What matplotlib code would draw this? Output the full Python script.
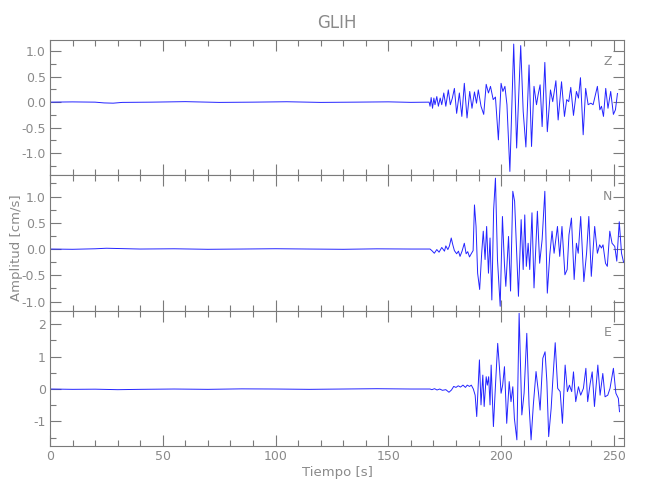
import matplotlib
matplotlib.use("Agg")
import matplotlib.pyplot as plt
from matplotlib.ticker import MultipleLocator, FormatStrFormatter

# ---------------- data ----------------
title = "GLIH"
components = ["Z", "N", "E"]
xlabel = "Tiempo [s]"
ylabel = "Amplitud [cm/s]"

t_z = [0, 10, 20, 24, 28, 32, 45, 60, 75, 90, 105, 120, 135, 150, 160, 168.1,
       168.5, 169.0, 169.6, 170.2, 170.7, 171.5, 172.2, 173.0, 173.7, 174.6,
       175.5, 176.6, 177.5, 178.4, 179.3, 180.3, 181.5, 182.6, 183.7, 184.9,
       186.1, 187.1, 188.2, 189.1, 189.9, 191.1, 192.3, 193.4, 194.4, 195.3,
       196.5, 197.5, 198.8, 200.0, 200.8, 201.7, 202.6, 203.9, 205.6, 206.9,
       208.7, 209.8, 211.0, 212.4, 213.5, 214.6, 215.7, 216.4, 217.3, 218.2,
       219.4, 220.5, 221.9, 222.9, 224.3, 225.3, 226.8, 228.1, 229.1, 230.0,
       230.9, 232.1, 233.4, 234.3, 235.2, 236.4, 237.5, 238.6, 239.8, 240.8,
       242.7, 243.8, 244.5, 245.4, 246.4, 247.4, 248.6, 249.8, 250.7, 251.6]
v_z = [0.0, 0.005, 0.0, -0.015, -0.02, -0.005, 0.0, 0.01, -0.005, 0.0, 0.008, -0.005, 0.0, 0.006, -0.004, 0.0,
       -0.08, 0.09, -0.12, 0.08, -0.05, 0.11, -0.08, 0.08, -0.05, 0.18,
       -0.08, 0.24, -0.05, 0.08, 0.27, -0.22, 0.18, -0.28, 0.37, -0.31,
       0.21, -0.12, 0.20, -0.02, 0.24, -0.08, -0.24, 0.35, 0.18, 0.31,
       0.05, 0.10, -0.74, 0.37, 0.21, 0.31, -0.05, -1.36, 1.14, -0.90,
       1.11, -0.18, -0.88, 0.73, -0.87, 0.31, -0.05, 0.14, 0.34, -0.48,
       0.78, -0.58, 0.24, 0.01, 0.42, -0.35, 0.40, -0.28, 0.05, 0.01,
       0.29, -0.26, 0.21, 0.08, 0.48, -0.64, 0.27, -0.05, -0.02, -0.05,
       0.31, -0.15, -0.08, -0.28, 0.27, -0.12, 0.21, -0.24, -0.15, 0.17]

t_n = [0, 10, 20, 25, 30, 40, 55, 70, 85, 100, 115, 130, 145, 160, 168.5,
       169.3, 170.4, 171.5, 172.5, 173.7, 174.9, 175.5, 176.4, 177.1, 177.9,
       178.6, 179.3, 180.3, 181.1, 181.8, 182.7, 183.7, 184.5, 185.2, 186.0,
       186.9, 187.6, 188.2, 188.9, 189.6, 190.5, 191.4, 192.1, 192.9, 193.6,
       194.4, 195.1, 195.9, 196.7, 197.5, 198.4, 199.6, 200.6, 201.5, 202.1,
       203.3, 204.2, 205.2, 206.0, 206.8, 207.7, 208.9, 209.8, 210.5, 211.2,
       212.0, 212.7, 213.7, 214.6, 216.1, 217.1, 218.2, 219.4, 220.5, 221.6,
       222.6, 223.5, 225.0, 226.0, 227.0, 228.3, 229.3, 230.1, 231.2, 232.4,
       233.4, 234.2, 235.3, 236.7, 237.9, 238.9, 240.0, 241.5, 242.7, 243.7,
       244.5, 245.2, 246.3, 247.1, 248.2, 249.2, 250.4, 251.3, 252.4, 253.4, 254.3]
v_n = [0.0, -0.005, 0.005, 0.015, 0.01, 0.0, 0.005, -0.005, 0.0, 0.006, 0.0, -0.005, 0.004, 0.0, 0.0,
       -0.03, -0.08, -0.01, -0.06, 0.03, -0.04, 0.06, -0.01, 0.06, 0.21,
       0.08, -0.03, -0.09, -0.04, -0.14, -0.04, 0.11, -0.09, -0.05, -0.15,
       -0.08, -0.03, 0.84, 0.43, -0.46, -0.77, -0.08, 0.34, -0.20, 0.43,
       -0.46, 0.21, -0.97, 0.75, 1.35, -0.20, -1.09, 0.62, -0.30, -0.71,
       0.24, -0.80, 1.10, 0.91, 0.05, -0.90, 0.56, -0.39, 0.65, -0.33,
       0.11, -0.39, 0.69, -0.74, 0.72, -0.27, 0.18, 1.10, -0.84, -0.11,
       0.34, -0.08, 0.43, -0.14, 0.43, -0.49, -0.39, 0.27, 0.59, -0.58,
       0.11, -0.08, 0.62, -0.62, -0.08, 0.62, -0.52, 0.43, -0.08, 0.08,
       0.02, 0.08, -0.27, -0.33, 0.34, 0.11, 0.05, -0.23, 0.52, -0.08, -0.25]

t_e = [0, 10, 20, 30, 40, 55, 70, 85, 100, 115, 130, 145, 160, 168.5,
       169.3, 170.5, 171.6, 172.8, 174.0, 175.5, 176.9, 178.0, 179.0, 180.0,
       181.0, 182.0, 183.1, 184.2, 185.0, 186.0, 186.8, 187.7,
       188.5, 189.2, 190.4, 191.1, 191.9, 192.5, 193.4, 193.9, 194.5, 195.1,
       195.6, 196.6, 197.6, 198.5, 199.3, 200.0, 200.7, 201.5, 202.5, 203.6,
       204.4, 205.2, 205.9, 207.0, 208.0, 209.2, 210.2, 211.4, 212.4, 213.3,
       214.3, 215.5, 216.6, 217.3, 218.5, 219.5, 220.3, 221.1, 222.2, 222.9,
       224.0, 225.1, 226.2, 227.2, 228.4, 229.4, 230.3, 231.3, 232.1, 233.1,
       234.3, 235.3, 236.5, 237.6, 238.4, 239.5, 240.4, 241.4, 242.9, 243.9,
       245.1, 246.1, 247.3, 248.3, 249.8, 250.9, 252.0, 252.5]
v_e = [0.0, -0.01, -0.005, -0.02, -0.01, 0.0, -0.01, 0.005, 0.0, -0.01, 0.0, 0.01, 0.0, 0.0,
       -0.02, 0.01, -0.03, 0.0, -0.04, -0.02, -0.10, -0.03, 0.08, 0.05,
       0.10, 0.06, 0.12, 0.05, 0.12, 0.08, 0.12, 0.0,
       -0.19, -0.85, 0.90, -0.49, 0.43, -0.54, 0.38, 0.12, 0.38, -0.49,
       0.74, -1.16, 0.23, 1.41, 0.64, -0.13, 0.12, 0.69, -1.06, 0.23,
       -0.39, 0.07, -0.91, -1.57, 2.34, -0.80, -0.13, 1.72, -0.49, -1.57,
       -0.49, 0.54, -0.13, -0.65, 0.95, 1.15, 0.23, -1.47, -0.60, 0.23,
       1.43, 0.02, -0.08, -1.06, 0.74, -0.08, 0.12, -0.08, 0.53, -0.39,
       0.07, -0.19, 0.02, 0.64, -0.39, 0.17, 0.53, -0.54, 0.74, -0.19,
       0.48, -0.24, -0.19, 0.02, 0.64, -0.13, -0.29, -0.70]

series = [(t_z, v_z), (t_n, v_n), (t_e, v_e)]
ylims = [(-1.43, 1.22), (-1.18, 1.41), (-1.76, 2.41)]
ymajor = [0.5, 0.5, 1.0]
yminor = [0.25, 0.25, 0.5]
yfmt = ["%.1f", "%.1f", "%d"]
xlim = (0, 254.5)

# ---------------- style ----------------
grey = "#8a8a8a"
spine_c = "#7a7a7a"
line_c = "#2424ff"

fig = plt.figure(figsize=(6.5, 5.0), dpi=100)
left, width = 50 / 650, 574 / 650
tops = [40, 175, 311]
bots = [175, 311, 446]

for i, ((t, v), comp) in enumerate(zip(series, components)):
    y0 = 1 - bots[i] / 500
    h = (bots[i] - tops[i]) / 500
    ax = fig.add_axes([left, y0, width, h])
    ax.plot(t, v, color=line_c, lw=0.7)
    ax.set_xlim(*xlim)
    ax.set_ylim(*ylims[i])
    ax.xaxis.set_major_locator(MultipleLocator(50))
    ax.xaxis.set_minor_locator(MultipleLocator(10))
    ax.yaxis.set_major_locator(MultipleLocator(ymajor[i]))
    ax.yaxis.set_minor_locator(MultipleLocator(yminor[i]))
    ax.yaxis.set_major_formatter(FormatStrFormatter(yfmt[i]))
    ax.tick_params(which="both", direction="in", top=True, right=True,
                   color=spine_c, labelcolor=grey, labelsize=9, width=0.8)
    ax.tick_params(which="major", length=8, pad=3)
    ax.tick_params(which="minor", length=4)
    for s in ax.spines.values():
        s.set_color(spine_c)
        s.set_linewidth(0.8)
    if i < 2:
        ax.tick_params(labelbottom=False)
    else:
        ax.set_xlabel(xlabel, color=grey, fontsize=9.5, labelpad=2)
    ax.text(0.972, 0.84, comp, transform=ax.transAxes, color=grey,
            fontsize=9, ha="center", va="center")
    if i == 0:
        ax.set_title(title, color=grey, fontsize=12, pad=9)

fig.text(17 / 650, 1 - 248 / 500, ylabel, rotation=90, color=grey,
         fontsize=9.5, ha="center", va="center")

fig.savefig("out.png", dpi=100)
